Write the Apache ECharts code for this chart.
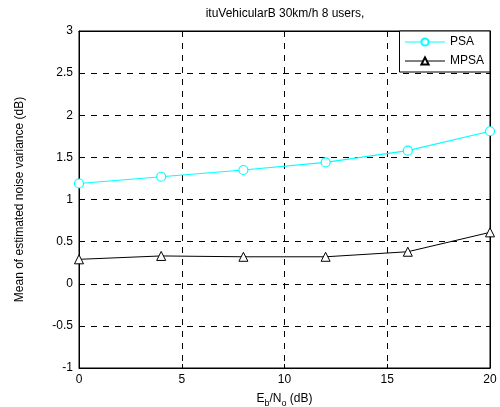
<!DOCTYPE html>
<html><head><meta charset="utf-8">
<script src="https://cdn.jsdelivr.net/npm/echarts@6/dist/echarts.min.js"></script>
<style>html,body{margin:0;padding:0;background:#fff}#c{width:500px;height:407px}</style>
</head><body><div id="c"></div>
<script>
const xValues = [0, 4, 8, 12, 16, 20];
const psa = [1.19, 1.27, 1.35, 1.44, 1.58, 1.81];
const mpsa = [0.29, 0.33, 0.32, 0.32, 0.38, 0.61];
const seriesNames = ['PSA', 'MPSA'];
const titleText = 'ituVehicularB 30km/h 8 users,';

const chart = echarts.init(document.getElementById('c'));
const font = 'Liberation Sans, Arial, sans-serif';
const fs = 12;
const tick = { show: true, inside: true, length: 4, lineStyle: { color: '#000' } };
const label = { fontFamily: font, fontSize: fs, color: '#000', margin: 6 };
const split = { show: true, lineStyle: { color: '#000', type: [6, 6], width: 1 } };
chart.setOption({
  animation: false,
  backgroundColor: '#fff',
  title: { text: titleText, left: 280, top: 3, textAlign: 'center',
    textStyle: { fontFamily: font, fontSize: fs, fontWeight: 'normal', color: '#000' } },
  grid: { left: 79, right: 10, top: 31, bottom: 39, show: true, borderColor: '#000', borderWidth: 1,
    outerBoundsMode: 'none', containLabel: false },
  legend: {
    right: 10, top: 31, orient: 'vertical', backgroundColor: '#fff',
    borderColor: '#000', borderWidth: 1, borderRadius: 0,
    padding: [5, 6, 5, 5], itemGap: 7, itemWidth: 40, itemHeight: 9,
    lineStyle: { width: 1 },
    textStyle: { fontFamily: font, fontSize: fs, color: '#000' },
    data: seriesNames
  },
  xAxis: [{
    type: 'value', min: 0, max: 20, interval: 5,
    name: 'E{sub|b}/N{sub|o} (dB)', nameLocation: 'middle', nameGap: 22,
    nameTextStyle: { fontFamily: font, fontSize: fs, color: '#000',
      rich: { sub: { fontFamily: font, fontSize: 9, verticalAlign: 'bottom', padding: [9, 0, 0, 0], color: '#000' } } },
    axisLine: { show: true, onZero: false, lineStyle: { color: '#000' } },
    axisTick: tick, axisLabel: label, splitLine: split
  }, {
    type: 'value', min: 0, max: 20, interval: 5, position: 'top',
    axisLine: { show: true, onZero: false, lineStyle: { color: '#000' } },
    axisTick: tick, axisLabel: { show: false }, splitLine: { show: false }
  }],
  yAxis: [{
    type: 'value', min: -1, max: 3, interval: 0.5,
    name: 'Mean of estimated noise variance (dB)', nameLocation: 'middle', nameGap: 53,
    nameTextStyle: { fontFamily: font, fontSize: fs, color: '#000' },
    axisLine: { show: true, onZero: false, lineStyle: { color: '#000' } },
    axisTick: tick, axisLabel: label, splitLine: split
  }, {
    type: 'value', min: -1, max: 3, interval: 0.5, position: 'right',
    axisLine: { show: true, onZero: false, lineStyle: { color: '#000' } },
    axisTick: tick, axisLabel: { show: false }, splitLine: { show: false }
  }],
  series: [
    { name: seriesNames[0], type: 'line', data: xValues.map((x, i) => [x, psa[i]]),
      symbol: 'circle', symbolSize: 9, color: '#00ffff', z: 3,
      lineStyle: { color: '#00ffff', width: 1.2 }, itemStyle: { color: '#fff', borderColor: '#00ffff', borderWidth: 1.2 } },
    { name: seriesNames[1], type: 'line', data: xValues.map((x, i) => [x, mpsa[i]]),
      symbol: 'triangle', symbolSize: 9, color: '#000', z: 3,
      lineStyle: { color: '#000', width: 1 }, itemStyle: { color: '#fff', borderColor: '#000', borderWidth: 1 } }
  ]
});
</script></body></html>
